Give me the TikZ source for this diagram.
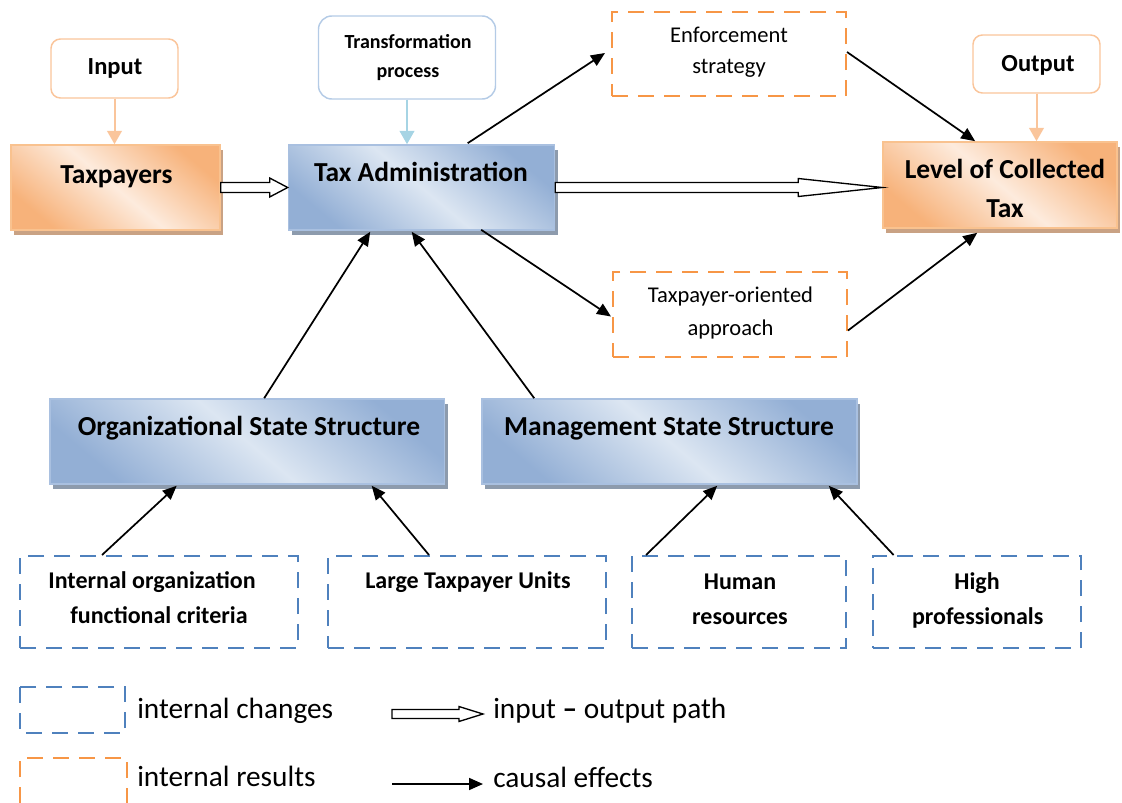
\documentclass[tikz,border=0pt]{standalone}
\usepackage{fontspec}
\setmainfont{Carlito}
\usetikzlibrary{arrows.meta,shadows,calc}

\definecolor{orDash}{HTML}{F79646}
\definecolor{blDash}{HTML}{4F81BD}
\definecolor{orDark}{HTML}{F7B27A}
\definecolor{orLight}{HTML}{FDEBDD}
\definecolor{orEdge}{HTML}{F9C28F}
\definecolor{orShadow}{HTML}{C9A284}
\definecolor{blDark}{HTML}{93AFD5}
\definecolor{blLight}{HTML}{DCE6F2}
\definecolor{blEdge}{HTML}{A9C0E0}
\definecolor{blShadow}{HTML}{8D9BAD}
\definecolor{inLine}{HTML}{FAC59B}
\definecolor{tfLine}{HTML}{A6D4E4}
\definecolor{tfEdge}{HTML}{B4CBE6}

% hollow block arrow: #1 start, #2 tip, #3 shaft half width, #4 head length, #5 head half width
\newcommand\hollowarrow[5]{%
  \draw[hollow] let \p1=#1, \p2=#2 in
    (\x1,{\y1+#3}) -- ({\x2-#4},{\y1+#3}) -- ({\x2-#4},{\y1+#5}) -- (\x2,\y1)
    -- ({\x2-#4},{\y1-#5}) -- ({\x2-#4},{\y1-#3}) -- (\x1,{\y1-#3}) -- cycle;}

\begin{document}
\begin{tikzpicture}[x=0.75pt,y=-0.75pt,
  every node/.style={inner sep=0pt},
  orbox/.style={draw=orEdge, line width=1.2pt, shading=axis,
    top color=orDark, bottom color=orDark, middle color=orLight, shading angle=-40,
    general shadow={fill=orShadow, shadow xshift=2.4pt, shadow yshift=-3.6pt}},
  blbox/.style={draw=blEdge, line width=1.2pt, shading=axis,
    top color=blDark, bottom color=blDark, middle color=blLight, shading angle=-40,
    general shadow={fill=blShadow, shadow xshift=2.4pt, shadow yshift=-3.6pt}},
  rnd/.style={rounded corners=7pt, line width=1.1pt, fill=white},
  dashO/.style={draw=orDash, line width=1.5pt, dash pattern=on 12pt off 7.5pt},
  dashB/.style={draw=blDash, line width=1.5pt, dash pattern=on 12pt off 7.5pt},
  cause/.style={line width=1.3pt, -{Triangle[length=10.5pt,width=9pt]}},
  hollow/.style={draw=black, fill=white, line width=1pt},
  big/.style={font=\fontsize{20.6}{24}\selectfont\bfseries, anchor=base},
  mid/.style={font=\fontsize{18}{22}\selectfont\bfseries, anchor=base},
  tag/.style={font=\fontsize{18.4}{22}\selectfont\bfseries, anchor=base},
  small/.style={font=\fontsize{15}{18}\selectfont\bfseries, anchor=base},
  plain/.style={font=\fontsize{16.9}{20}\selectfont, anchor=base},
  legend/.style={font=\fontsize{22}{26}\selectfont, anchor=base west}]

\useasboundingbox (0,0) rectangle (1122,803);
\clip (0,0) rectangle (1122,803);

% labels of the system stages
\node[rnd, draw=inLine, minimum width=95.25pt, minimum height=44.25pt] (in) at (114.5,68.5) {};
\node[tag] (inT) at (115,74) {Input};
\node[rnd, draw=tfEdge, rounded corners=10pt, minimum width=132.75pt, minimum height=62.25pt] (tf) at (407,57.5) {};
\node[small] (tf1) at (408,48) {Transformation};
\node[small] (tf2) at (408,77) {process};
\node[rnd, draw=inLine, minimum width=95.25pt, minimum height=43.5pt] (out) at (1036.5,64) {};
\node[tag] (outT) at (1038,71) {Output};

% main chain
\node[orbox, minimum width=156.75pt, minimum height=63.75pt] (tp) at (115.5,187.5) {};
\node[big] (tpT) at (116.5,183) {Taxpayers};
\node[blbox, minimum width=199.5pt, minimum height=63.75pt] (ta) at (421.5,187.5) {};
\node[big] (taT) at (421,181) {Tax Administration};
\node[orbox, minimum width=175.5pt, minimum height=64.5pt] (lv) at (1000,185) {};
\node[big] (lv1) at (1005,178) {Level of Collected};
\node[big] (lv2) at (1005,217) {Tax};

% intermediate results
\node[dashO, minimum width=175.5pt, minimum height=63pt] (enf) at (729,54) {};
\node[plain] (enf1) at (729,42) {Enforcement};
\node[plain] (enf2) at (729,73) {strategy};
\node[dashO, minimum width=175.5pt, minimum height=63.75pt] (tpo) at (730,314.5) {};
\node[plain] (tpo1) at (730.5,302) {Taxpayer-oriented};
\node[plain] (tpo2) at (730.5,335) {approach};

% state structures
\node[blbox, minimum width=295.9pt, minimum height=63.75pt] (org) at (247.25,441.5) {};
\node[big] (orgT) at (249,435) {Organizational State Structure};
\node[blbox, minimum width=281.25pt, minimum height=63.75pt] (mg) at (669.5,441.5) {};
\node[big] (mgT) at (669,435) {Management State Structure};

% internal changes
\node[dashB, minimum width=208.5pt, minimum height=69pt] (int) at (159,602) {};
\node[mid] (int1) at (152,588) {Internal organization};
\node[mid] (int2) at (159,623) {functional criteria};
\node[dashB, minimum width=208.5pt, minimum height=69pt] (lg) at (467,602) {};
\node[mid] (lgT) at (468,588) {Large Taxpayer Units};
\node[dashB, minimum width=160.5pt, minimum height=69pt] (hu) at (739,602) {};
\node[mid] (hu1) at (740,589) {Human};
\node[mid] (hu2) at (740,624) {resources};
\node[dashB, minimum width=156pt, minimum height=69pt] (hi) at (977,602) {};
\node[mid] (hi1) at (977,589) {High};
\node[mid] (hi2) at (977.7,624) {professionals};

% stage label connectors
\draw[draw=inLine, line width=1.5pt, -{Triangle[length=10pt,width=11pt]}] (in.south) -- (in.south |- tp.north);
\draw[draw=tfLine, line width=1.5pt, -{Triangle[length=10pt,width=11pt]}] (tf.south) -- (tf.south |- ta.north);
\draw[draw=inLine, line width=1.5pt, -{Triangle[length=10pt,width=11pt]}] (out.south) -- (out.south |- lv.north);

% input - output path
\hollowarrow{(tp.east)}{(ta.west)}{3.75pt}{13.5pt}{7.1pt}
\hollowarrow{(ta.east)}{(lv.west)}{3.75pt}{63pt}{6.75pt}

% causal effects
\draw[cause] ($(ta.north west)+(180,-1)$) -- ($(enf.west)+(-6,-1)$);
\draw[cause] ($(enf.east)+(0,-2)$) -- ($(lv.north west)+(93,0)$);
\draw[cause] ($(ta.south west)+(193.5,-1)$) -- ($(tpo.west)+(-1,2)$);
\draw[cause] ($(tpo.east)+(0,16)$) -- ($(lv.south west)+(95,4)$);
\draw[cause] ($(org.north west)+(215,0)$) -- ($(ta.south west)+(82.5,1)$);
\draw[cause] ($(mg.north west)+(53,0)$) -- ($(ta.south west)+(124,1)$);
\draw[cause] ($(int.north west)+(83,0)$) -- ($(org.south west)+(127.5,1)$);
\draw[cause] ($(lg.north west)+(102,0)$) -- ($(org.south west)+(322.5,1)$);
\draw[cause] ($(hu.north west)+(15,0)$) -- ($(mg.south west)+(236,1)$);
\draw[cause] ($(hi.north west)+(21.6,0)$) -- ($(mg.south west)+(347.6,1)$);

% legend
\draw[dashB] (20,687) rectangle (125,733);
\draw[dashO] (20,803) -- (20,758) -- (127,758) -- (127,803);
\node[legend] (lgc) at (137,718) {internal changes};
\node[legend] (lgr) at (137,786) {internal results};
\coordinate (ioA) at (392,714);
\coordinate (ioB) at (483,714);
\hollowarrow{(ioA)}{(ioB)}{3.4pt}{18pt}{5.6pt}
\node[legend] (lgio) at (493,718) {input {\bfseries –} output path};
\coordinate (caA) at (392,784);
\coordinate (caB) at (483,784);
\draw[cause] (caA) -- (caB);
\node[legend] (lgca) at (493,787) {causal effects};
\end{tikzpicture}
\end{document}
